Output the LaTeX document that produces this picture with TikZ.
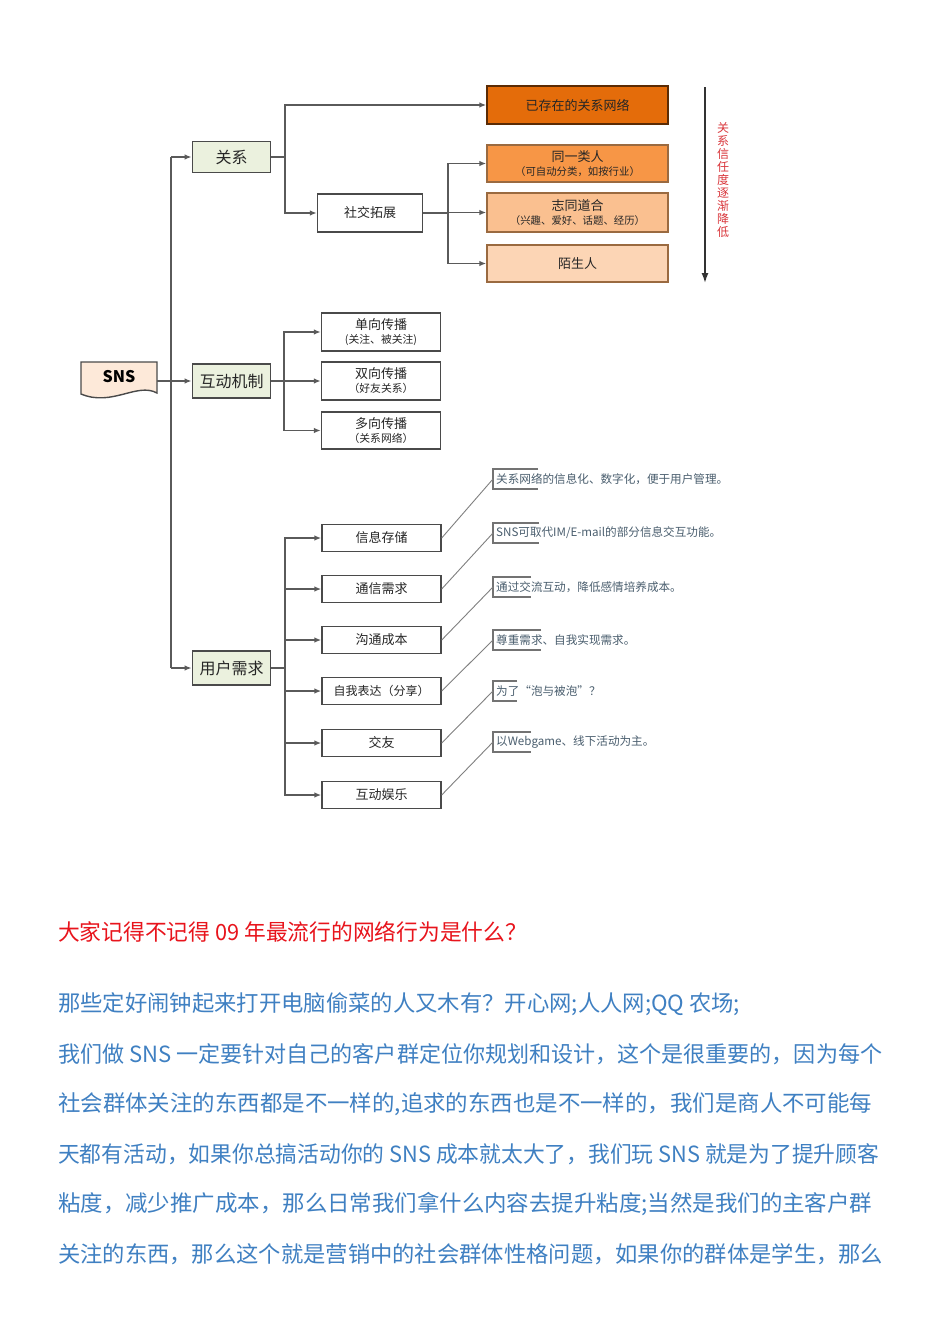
\documentclass[tikz,border=0pt]{standalone}
\usepackage{fontspec}
\usepackage{graphicx}
\setmainfont{Noto Sans CJK SC}
\usetikzlibrary{arrows.meta,calc}
\definecolor{gfill}{HTML}{EBF1DE}
\definecolor{snsfill}{HTML}{FDE9D9}
\definecolor{or1}{HTML}{E46C0A}
\definecolor{or2}{HTML}{F79646}
\definecolor{or3}{HTML}{FAC090}
\definecolor{or4}{HTML}{FCD5B5}
\definecolor{orb}{HTML}{9A6A40}
\definecolor{linec}{HTML}{5A5A5A}
\definecolor{boxb}{HTML}{4A4A4A}
\definecolor{anntext}{HTML}{4A5E6E}
\definecolor{redtext}{HTML}{E8141C}
\definecolor{bluetext}{HTML}{3F80C2}
\definecolor{vred}{HTML}{D9353A}
\newcommand{\fitline}[2]{\resizebox{#1pt}{\height}{#2}}
\begin{document}
\begin{tikzpicture}[x=1pt,y=-1pt,
  mainbox/.style={draw=boxb,line width=1.8pt,fill=gfill,minimum width=78pt,minimum height=32pt,inner sep=0pt,font=\fontsize{16}{18}\selectfont,text=black!85},
  whitebox/.style={draw=boxb,line width=1.4pt,fill=white,inner sep=0pt,align=center,text=black!85},
  orbox/.style={draw=orb,line width=1.4pt,minimum width=181pt,inner sep=0pt,align=center,text=black!85,font=\fontsize{13}{15}\selectfont},
  conn/.style={draw=linec,line width=1.4pt},
  arr/.style={conn,-{Latex[length=7pt,width=5.5pt]}},
  diag/.style={draw=black!50,line width=0.9pt},
  brk/.style={draw=black!55,line width=1.2pt},
  anntxt/.style={anchor=west,inner sep=0pt,text=anntext,font=\fontsize{11.6}{13}\selectfont},
  para/.style={anchor=west,inner sep=0pt,font=\fontsize{22.3}{26}\selectfont}
]
\useasboundingbox[fill=white] (0,0) rectangle (950,1344);

% SNS document shape
\draw[draw=boxb,line width=1.4pt,fill=snsfill] (81,362) -- (157,362) -- (157,393) .. controls (137,382) and (112,407) .. (81,394) -- cycle;
\node[minimum width=76pt,minimum height=30pt,inner sep=0pt,font=\fontsize{16}{18}\selectfont\bfseries] (sns) at (119,377) {SNS};

% level 1
\node[mainbox,minimum height=31pt] (gx) at (231.5,157) {关系};
\node[mainbox,minimum height=34pt] (hd) at (231.5,381) {互动机制};
\node[mainbox,minimum height=34pt] (yh) at (231.5,668) {用户需求};

% relations branch
\node[whitebox,minimum width=105pt,minimum height=38pt,font=\fontsize{13}{15}\selectfont] (sj) at (370,213) {社交拓展};
\node[orbox,fill=or1,draw=black!60!or1,minimum height=38pt] (o1) at (577.5,105) {已存在的关系网络};
\node[orbox,fill=or2,minimum height=37pt] (o2) at (577.5,163.5) {同一类人\\[-1pt]{\fontsize{10.4}{12}\selectfont （可自动分类，如按行业）}};
\node[orbox,fill=or3,minimum height=39pt] (o3) at (577.5,212.5) {志同道合\\[-1pt]{\fontsize{10.4}{12}\selectfont （兴趣、爱好、话题、经历）}};
\node[orbox,fill=or4,minimum height=37pt] (o4) at (577.5,263.5) {陌生人};

% trust arrow and label
\coordinate (va1) at (705,87);
\coordinate (va2) at (705,283);
\draw[draw=black!80,line width=1.5pt,-{Latex[length=10pt,width=7pt]}] (va1) -- (va2);
\node[align=center,inner sep=0pt,text=vred,font=\fontsize{12}{13}\selectfont] (vt) at (723,180) {关\\系\\信\\任\\度\\逐\\渐\\降\\低};

% interaction branch
\node[whitebox,minimum width=119pt,minimum height=38pt,font=\fontsize{13}{15}\selectfont] (h1) at (381,332) {单向传播\\[-1pt]{\fontsize{10.8}{12}\selectfont (关注、被关注)}};
\node[whitebox,minimum width=119pt,minimum height=38pt,font=\fontsize{13}{15}\selectfont] (h2) at (381,381) {双向传播\\[-1pt]{\fontsize{10.8}{12}\selectfont （好友关系）}};
\node[whitebox,minimum width=119pt,minimum height=37pt,font=\fontsize{13}{15}\selectfont] (h3) at (381,430.5) {多向传播\\[-1pt]{\fontsize{10.8}{12}\selectfont （关系网络）}};

% user needs branch
\tikzset{ubox/.style={whitebox,minimum width=119pt,minimum height=27pt,font=\fontsize{13}{15}\selectfont}}
\node[ubox] (u1) at (381.5,538) {信息存储};
\node[ubox] (u2) at (381.5,589) {通信需求};
\node[ubox] (u3) at (381.5,640) {沟通成本};
\node[ubox,font=\fontsize{12}{14}\selectfont] (u4) at (381.5,691) {自我表达（分享）};
\node[ubox] (u5) at (381.5,743) {交友};
\node[ubox] (u6) at (381.5,795) {互动娱乐};

% annotations
\coordinate (a1) at (493,479);
\coordinate (a2) at (493,533);
\coordinate (a3) at (493,587);
\coordinate (a4) at (493,640);
\coordinate (a5) at (493,691);
\coordinate (a6) at (493,742);
\foreach \a/\l in {a1/45,a2/46,a3/38,a4/48,a5/24,a6/38}{
  \draw[brk] ($(\a)+(\l,-10)$) -- ($(\a)+(0,-10)$) -- ($(\a)+(0,10)$) -- ($(\a)+(\l,10)$);
}
\node[anntxt] (n1) at ($(a1)+(3,0)$) {关系网络的信息化、数字化，便于用户管理。};
\node[anntxt] (n2) at ($(a2)+(3,0)$) {SNS可取代IM/E-mail的部分信息交互功能。};
\node[anntxt] (n3) at ($(a3)+(3,0)$) {通过交流互动，降低感情培养成本。};
\node[anntxt] (n4) at ($(a4)+(3,0)$) {尊重需求、自我实现需求。};
\node[anntxt] (n5) at ($(a5)+(3,0)$) {为了“泡与被泡”？};
\node[anntxt] (n6) at ($(a6)+(3,0)$) {以Webgame、线下活动为主。};
\foreach \u/\a in {u1/a1,u2/a2,u3/a3,u4/a4,u5/a5,u6/a6}{
  \draw[diag] (\u.east) -- (\a);
}

% connectors
\coordinate (tr) at (171,0);
\coordinate (b1) at (285,0);
\coordinate (b2) at (448,0);
\coordinate (b3) at (284,0);
\coordinate (b4) at (285,0);
\draw[arr] (sns.east|-hd.west) -- (hd.west);
\draw[conn] (tr|-gx.west) -- (tr|-yh.west);
\draw[arr] (tr|-gx.west) -- (gx.west);
\draw[arr] (tr|-yh.west) -- (yh.west);

\draw[conn] (gx.east) -- (b1|-gx.east);
\draw[arr] (b1|-gx.east) |- (o1.west);
\draw[arr] (b1|-gx.east) |- (sj.west);

\draw[conn] (sj.east) -- (b2|-sj.east);
\draw[arr] (b2|-sj.east) |- (o2.west);
\draw[arr] (b2|-sj.east) |- (o3.west);
\draw[arr] (b2|-sj.east) |- (o4.west);

\draw[conn] (hd.east) -- (b3|-hd.east);
\draw[arr] (b3|-hd.east) |- (h1.west);
\draw[arr] (b3|-hd.east) |- (h2.west);
\draw[arr] (b3|-hd.east) |- (h3.west);

\draw[conn] (yh.east) -- (b4|-yh.east);
\foreach \u in {u1,u2,u3,u4,u5,u6}{
  \draw[arr] (b4|-yh.east) |- (\u.west);
}

% text below
\node[para,text=redtext] (t0) at (58,932) {\fitline{469}{大家记得不记得 09 年最流行的网络行为是什么？}};
\node[para,text=bluetext] (t1) at (58,1004) {\fitline{682}{那些定好闹钟起来打开电脑偷菜的人又木有？开心网;人人网;QQ 农场;}};
\node[para,text=bluetext] (t2) at (58,1054) {\fitline{824}{我们做 SNS 一定要针对自己的客户群定位你规划和设计，这个是很重要的，因为每个}};
\node[para,text=bluetext] (t3) at (58,1104) {\fitline{814}{社会群体关注的东西都是不一样的,追求的东西也是不一样的，我们是商人不可能每}};
\node[para,text=bluetext] (t4) at (58,1154) {\fitline{821}{天都有活动，如果你总搞活动你的 SNS 成本就太大了，我们玩 SNS 就是为了提升顾客}};
\node[para,text=bluetext] (t5) at (58,1204) {\fitline{814}{粘度，减少推广成本，那么日常我们拿什么内容去提升粘度;当然是我们的主客户群}};
\node[para,text=bluetext] (t6) at (58,1254) {\fitline{825}{关注的东西，那么这个就是营销中的社会群体性格问题，如果你的群体是学生，那么}};
\end{tikzpicture}
\end{document}
